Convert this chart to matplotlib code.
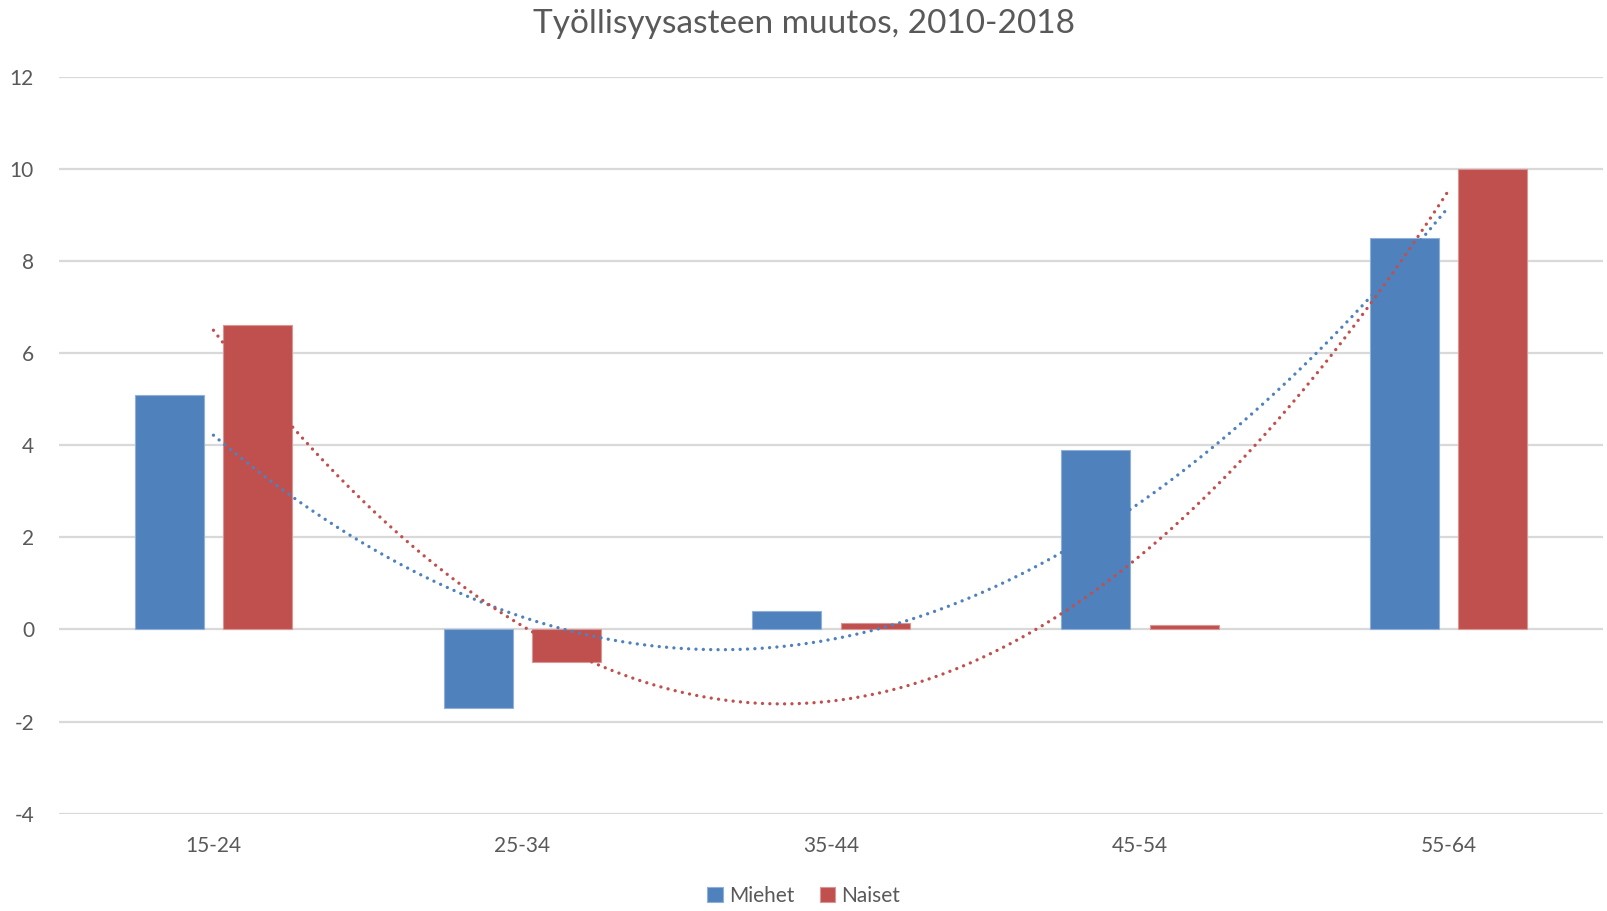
import matplotlib
matplotlib.use("Agg")
import matplotlib.pyplot as plt
import numpy as np

plt.rcParams['font.family'] = ['Lato', 'DejaVu Sans']
plt.rcParams['axes.unicode_minus'] = False

# data
ryhmat = ['15-24', '25-34', '35-44', '45-54', '55-64']
miehet = [5.1, -1.7, 0.4, 3.9, 8.5]
naiset = [6.6, -0.7, 0.15, 0.1, 10.0]

sininen = '#4F81BD'
punainen = '#C0504D'
harmaa = '#595959'

fig = plt.figure(figsize=(16.08, 9.11), dpi=100)
ax = fig.add_axes([0.0367, 0.1068, 0.9603, 0.809])

x = np.arange(len(ryhmat))
lev = 0.223
ax.bar(x - 0.143, miehet, lev, color=sininen, edgecolor='#8FB0D8', linewidth=0.8,
       label='Miehet', zorder=2)
ax.bar(x + 0.143, naiset, lev, color=punainen, edgecolor='#D99694', linewidth=0.8,
       label='Naiset', zorder=2)

# polynomial trendlines (order 2) like in Excel
xs = np.linspace(x[0], x[-1], 300)
for arvot, vari in [(miehet, sininen), (naiset, punainen)]:
    kerr = np.polyfit(x, arvot, 2)
    ax.plot(xs, np.polyval(kerr, xs), color=vari, linestyle=(0, (0.01, 2.2)),
            linewidth=2.4, dash_capstyle='round', zorder=3)

ax.set_xlim(-0.5, 4.5)
ax.set_ylim(-4, 12)
ax.set_yticks(range(-4, 13, 2))
ax.set_xticks(x)
ax.set_xticklabels(ryhmat)
ax.grid(axis='y', color='#D9D9D9', linewidth=1.6, zorder=0)
ax.set_axisbelow(True)
for s in ax.spines.values():
    s.set_visible(False)
ax.tick_params(axis='both', length=0, colors=harmaa, labelsize=15)
ax.tick_params(axis='x', pad=16)
ax.tick_params(axis='y', pad=18)

fig.suptitle('Työllisyysasteen muutos, 2010-2018', y=0.99, fontsize=24,
             color=harmaa, va='top')

fig.legend(*ax.get_legend_handles_labels(), loc='center', bbox_to_anchor=(0.5, 0.017),
           ncol=2, frameon=False, fontsize=15, handlelength=0.75, handleheight=0.75,
           handletextpad=0.3, columnspacing=1.2, labelcolor=harmaa)

fig.savefig('out.png', dpi=100)
